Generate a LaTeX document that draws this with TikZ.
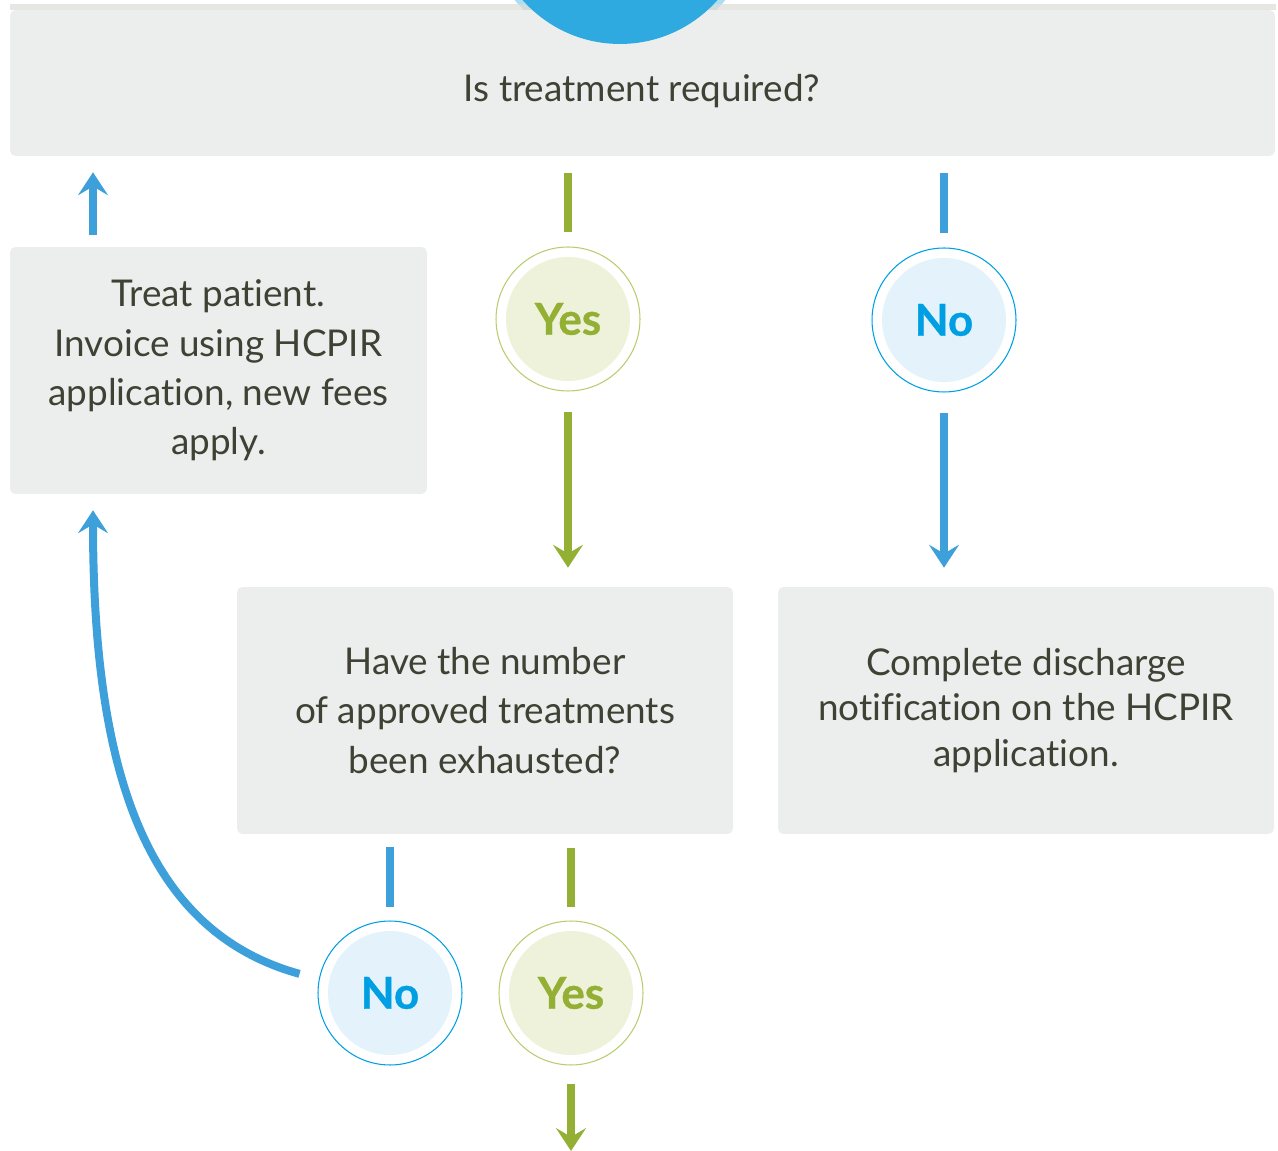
\documentclass[tikz,border=0pt]{standalone}
\usepackage{fontspec}
\setmainfont{Lato}[Ligatures=NoCommon]
\usepackage{tikz}
\usetikzlibrary{arrows.meta, positioning}
\definecolor{panelgrey}{HTML}{ECEEED}
\definecolor{stripgrey}{HTML}{DCDCD6}
\definecolor{textgrey}{HTML}{3F4134}
\definecolor{topblue}{HTML}{2EAAE0}
\definecolor{lineblue}{HTML}{3EA0DA}
\definecolor{noblue}{HTML}{009FE3}
\definecolor{nofill}{HTML}{E4F3FB}
\definecolor{linegreen}{HTML}{94B034}
\definecolor{yesring}{HTML}{B8CE6E}
\definecolor{yesfill}{HTML}{EEF2DA}
\tikzstyle{panel} = [rectangle, rounded corners=3pt, fill=panelgrey, text=textgrey, align=center, font=\fontsize{21}{28}\selectfont]
\tikzstyle{yescirc} = [circle, minimum size=2.88cm, draw=yesring, line width=0.6pt, fill=white, text=linegreen, font=\fontsize{25}{30}\selectfont\bfseries\addfontfeature{FakeBold=0.8}, path picture={\fill[yesfill] (path picture bounding box.center) circle (1.24cm);}]
\tikzstyle{nocirc} = [circle, minimum size=2.88cm, draw=noblue, line width=0.6pt, fill=white, text=noblue, font=\fontsize{25}{30}\selectfont\bfseries\addfontfeature{FakeBold=0.8}, path picture={\fill[nofill] (path picture bounding box.center) circle (1.24cm);}]
\tikzstyle{greenline} = [draw=linegreen, line width=0.16cm]
\tikzstyle{blueline} = [draw=lineblue, line width=0.16cm]
\tikzstyle{greenarrow} = [greenline, -{Stealth[length=13pt, width=17pt, inset=5pt]}]
\tikzstyle{bluearrow} = [blueline, -{Stealth[length=13pt, width=17pt, inset=5pt]}]

\begin{document}
\begin{tikzpicture}[x=0.02cm, y=-0.02cm]
	\useasboundingbox (0,0) rectangle (1278,1151);
	% top question
	\begin{scope}
		\clip (0,0) rectangle (1278,10);
		\fill[topblue!40] (620,-86) circle (2.72cm);
	\end{scope}
	\fill[stripgrey, opacity=0.7] (10,4) rectangle (1276,10);
	\node[panel, minimum width=25.3cm, minimum height=2.92cm] (top) at (642.5,83) {};
	\node[text=textgrey, font=\fontsize{21}{28}\selectfont] (question) at (642,91) {Is treatment required?};
	\begin{scope}
		\clip (0,0) rectangle (1278,200);
		\fill[topblue] (620,-86) circle (2.6cm);
	\end{scope}
	% boxes
	\node[panel, minimum width=8.34cm, minimum height=4.94cm] (treat) at (218.5,370.5) {Treat patient.\\Invoice using HCPIR\\application, new fees\\apply.};
	\node[panel, minimum width=9.92cm, minimum height=4.94cm] (exhausted) at (485,710.5) {Have the number\\of approved treatments\\been exhausted?};
	\node[panel, minimum width=9.92cm, minimum height=4.94cm, font=\fontsize{21}{26}\selectfont] (discharge) at (1026,710.5) {Complete discharge\\notification on the HCPIR\\application.};
	% answers
	\node[yescirc] (yes1) at (568,319) {Yes};
	\node[nocirc] (no1) at (944,320) {No};
	\node[nocirc] (no2) at (390,993) {No};
	\node[yescirc] (yes2) at (571,993) {Yes};
	\coordinate (back) at (93,0);
	\coordinate (out) at (571,1151);
	% connectors
	\draw[greenline, shorten <=0.34cm, shorten >=0.28cm] (yes1 |- top.south) -- (yes1.north);
	\draw[greenarrow, shorten <=0.4cm, shorten >=0.38cm] (yes1.south) -- (yes1 |- exhausted.north);
	\draw[blueline, shorten <=0.34cm, shorten >=0.28cm] (no1 |- top.south) -- (no1.north);
	\draw[bluearrow, shorten <=0.4cm, shorten >=0.38cm] (no1.south) -- (no1 |- discharge.north);
	\draw[bluearrow, shorten <=0.24cm, shorten >=0.32cm] (back |- treat.north) -- (back |- top.south);
	\draw[blueline, shorten <=0.26cm, shorten >=0.26cm] (no2 |- exhausted.south) -- (no2.north);
	\draw[greenline, shorten <=0.28cm, shorten >=0.26cm] (yes2 |- exhausted.south) -- (yes2.north);
	\draw[greenarrow, shorten <=0.36cm] (yes2.south) -- (out);
	\draw[bluearrow, shorten <=0.4cm, shorten >=0.32cm] (no2.169) .. controls (140,930) and (93,760) .. (back |- treat.south);
\end{tikzpicture}
\end{document}
